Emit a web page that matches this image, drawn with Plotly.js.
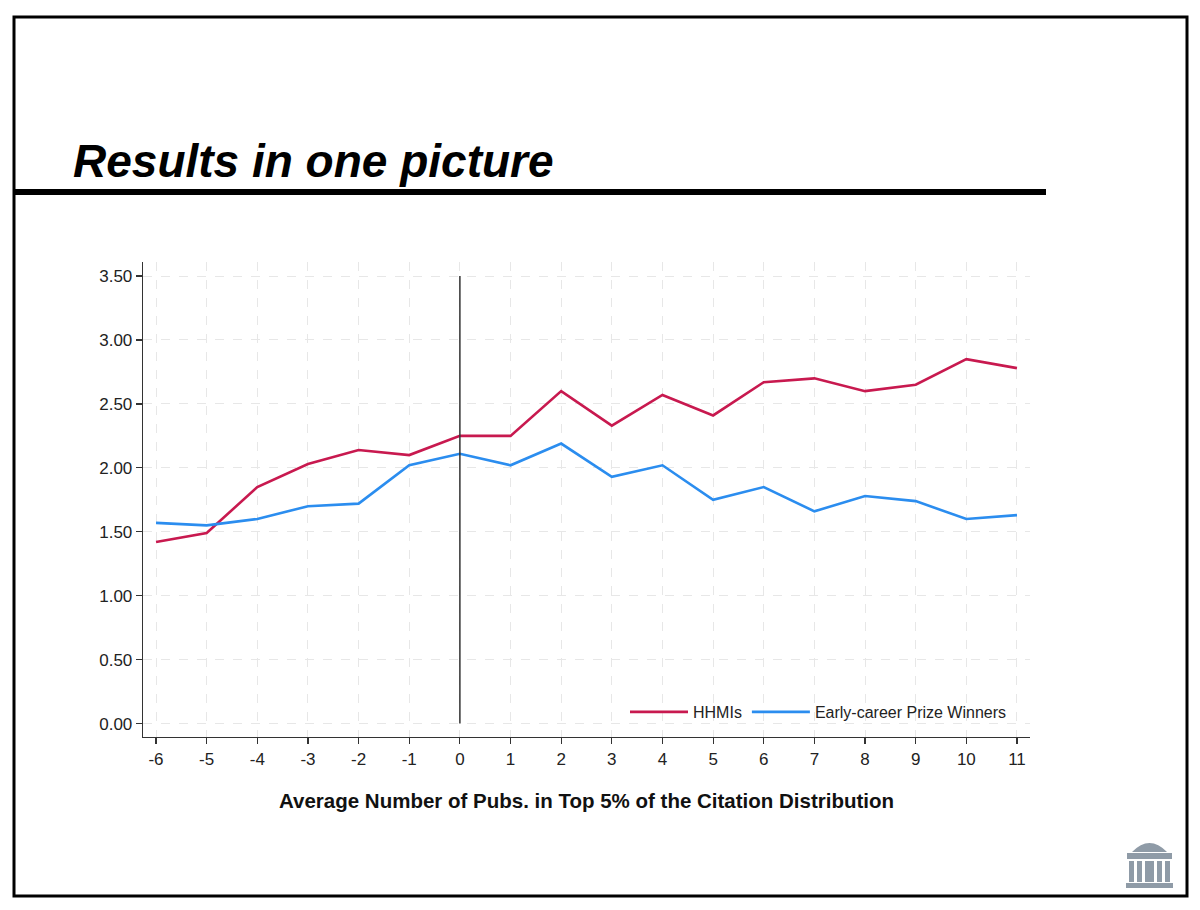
<!DOCTYPE html>
<html>
<head>
<meta charset="utf-8">
<script src="https://cdn.plot.ly/plotly-3.0.1.min.js"></script>
<style>
  html, body { margin: 0; padding: 0; background: #fff; }
  #chart { width: 1200px; height: 910px; }
</style>
</head>
<body>
<div id="chart"></div>
<script>
// ---- data ----
const eventTime = [-6, -5, -4, -3, -2, -1, 0, 1, 2, 3, 4, 5, 6, 7, 8, 9, 10, 11];
const hhmiValues = [1.42, 1.49, 1.85, 2.03, 2.14, 2.10, 2.25, 2.25, 2.60, 2.33, 2.57, 2.41, 2.67, 2.70, 2.60, 2.65, 2.85, 2.78];
const prizeValues = [1.57, 1.55, 1.60, 1.70, 1.72, 2.02, 2.11, 2.02, 2.19, 1.93, 2.02, 1.75, 1.85, 1.66, 1.78, 1.74, 1.60, 1.63];
const seriesNames = ['HHMIs', 'Early-career Prize Winners'];
const yTickValues = [0, 0.5, 1, 1.5, 2, 2.5, 3, 3.5];
const treatmentTime = 0;
const pageTitle = 'Results in one picture';
const xAxisTitle = 'Average Number of Pubs. in Top 5% of the Citation Distribution';

// ---- layout geometry (pixels of the 1200x910 page) ----
const W = 1200, H = 910;
const L = 143, R = 1030, T = 262, B = 737;
const px = X => (X - L) / (R - L);
const py = Y => (B - Y) / (B - T);
const logoColor = '#8f9ba7';
const fam = 'Liberation Sans, Arial, Helvetica, sans-serif';

function rectPx(x0, y0, x1, y1, color) {
  return {type: 'rect', xref: 'paper', yref: 'paper', layer: 'above',
    x0: px(x0), x1: px(x1), y0: py(y1), y1: py(y0),
    fillcolor: color, line: {width: 0}};
}

const shapes = [
  // slide frame
  {type: 'rect', xref: 'paper', yref: 'paper', x0: px(14), x1: px(1187), y0: py(896), y1: py(17),
   line: {color: '#000', width: 3}, fillcolor: 'rgba(0,0,0,0)'},
  // title rule
  {type: 'line', xref: 'paper', yref: 'paper', x0: px(14), x1: px(1046), y0: py(192), y1: py(192),
   line: {color: '#000', width: 6}},
  // vertical reference line at event time
  {type: 'line', xref: 'x', yref: 'y', x0: treatmentTime, x1: treatmentTime,
   y0: yTickValues[0], y1: yTickValues[yTickValues.length - 1],
   line: {color: '#333333', width: 1.5}},
  // logo: dome
  {type: 'path', xref: 'paper', yref: 'paper', layer: 'above',
   path: `M ${px(1132)} ${py(852)} Q ${px(1149.5)} ${py(834)} ${px(1167)} ${py(852)} Z`,
   fillcolor: logoColor, line: {width: 0}},
  rectPx(1127, 853, 1172, 859, logoColor),
  rectPx(1129, 861, 1134, 882, logoColor),
  rectPx(1137, 861, 1142, 882, logoColor),
  rectPx(1145, 861, 1154, 882, logoColor),
  rectPx(1157, 861, 1162, 882, logoColor),
  rectPx(1165, 861, 1170, 882, logoColor),
  rectPx(1126, 883, 1173, 888, logoColor)
];

const traces = [
  {x: eventTime, y: hhmiValues, name: seriesNames[0], type: 'scatter', mode: 'lines',
   line: {color: '#c8194f', width: 2.6}},
  {x: eventTime, y: prizeValues, name: seriesNames[1], type: 'scatter', mode: 'lines',
   line: {color: '#2b8def', width: 2.6}}
];

const axisFont = {family: fam, size: 17, color: '#222'};

const layout = {
  width: W, height: H,
  margin: {l: L, r: W - R, t: T, b: H - B, pad: 0},
  paper_bgcolor: '#fff', plot_bgcolor: '#fff',
  font: axisFont,
  showlegend: true,
  legend: {orientation: 'h', x: px(1012), xanchor: 'right', y: py(712), yanchor: 'middle',
    bgcolor: 'rgba(0,0,0,0)', font: {family: fam, size: 16, color: '#222'},
    itemwidth: 58, traceorder: 'normal'},
  xaxis: {
    range: [-6.257, 11.257], tickvals: eventTime, ticktext: eventTime.map(String),
    showline: true, linecolor: '#333', linewidth: 1.3, mirror: false,
    ticks: 'outside', ticklen: 6, tickcolor: '#333', tickwidth: 1.2,
    showgrid: true, gridcolor: '#e7e7e7', gridwidth: 1, griddash: 'dash',
    zeroline: false, tickfont: axisFont,
    title: {text: xAxisTitle, standoff: 26,
      font: {family: fam, size: 20.5, color: '#111', weight: 'bold'}}
  },
  yaxis: {
    range: [-0.105, 3.61], tickvals: yTickValues, tickformat: '.2f',
    showline: true, linecolor: '#333', linewidth: 1.3,
    ticks: 'outside', ticklen: 6, tickcolor: '#333', tickwidth: 1.2,
    showgrid: true, gridcolor: '#e7e7e7', gridwidth: 1, griddash: 'dash',
    zeroline: false, tickfont: axisFont
  },
  shapes: shapes,
  annotations: [
    {text: pageTitle, xref: 'paper', yref: 'paper', x: px(71), y: py(161),
     xanchor: 'left', yanchor: 'middle', showarrow: false,
     font: {family: fam, size: 46, color: '#000', weight: 'bold', style: 'italic'}}
  ]
};

Plotly.newPlot('chart', traces, layout, {displayModeBar: false, staticPlot: true});
</script>
</body>
</html>
